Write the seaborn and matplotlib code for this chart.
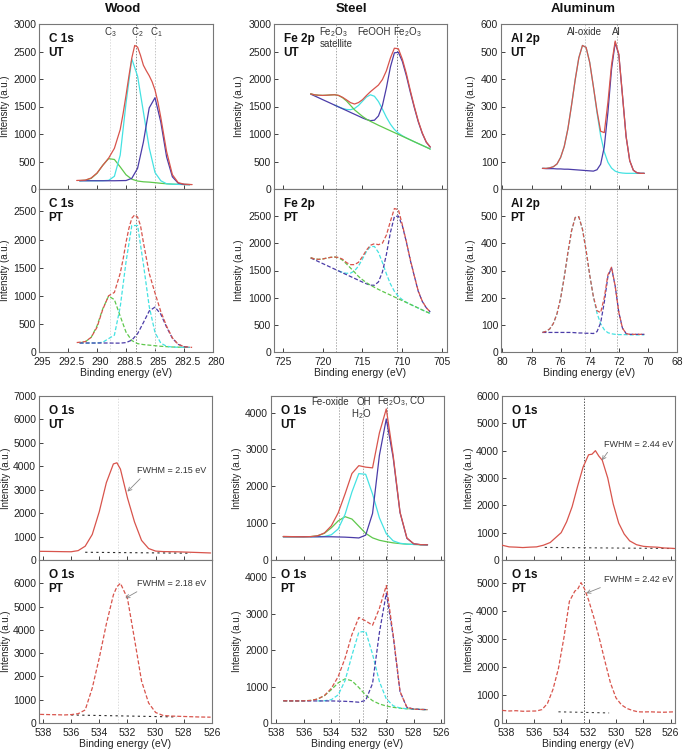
import numpy as np
import pandas as pd
import matplotlib
matplotlib.use("Agg")
import matplotlib.pyplot as plt
from matplotlib.transforms import ScaledTranslation
import seaborn as sns

sns.set_theme(style="white")
plt.rcParams['font.family'] = ['Liberation Sans', 'DejaVu Sans']
plt.rcParams['mathtext.fontset'] = 'custom'
plt.rcParams['mathtext.rm'] = 'Liberation Sans'
plt.rcParams['mathtext.it'] = 'Liberation Sans:italic'
plt.rcParams['mathtext.bf'] = 'Liberation Sans:bold'

# ------------------------------------------------------------------ data
NAN = np.nan
# --- C 1s (wood)
C1S_X = [291.5, 291.0, 290.5, 290.0, 289.5, 289.0, 288.5, 288.0, 287.5, 287.0,
         286.5, 286.0, 285.5, 285.0, 284.5, 284.0, 283.5, 283.0, 282.5, 282.0]
C1S_UT_GREEN = [151, 160, 194, 285, 433, 552, 537, 402, 259, 178, 145, 131, 125, 115, 104, 95, 88, 84, 82, 80]
C1S_UT_CYAN = [150, 150, 150, 150, 151, 157, 231, 616, 1557, 2366, 2050, 1400, 750, 300, 150, 95, 88, 84, 82, 80]
C1S_UT_BLUE = [150, 150, 150, 150, 150, 150, 150, 152, 154, 194, 377, 854, 1474, 1660, 1217, 583, 221, 106, 82, 80]
C1S_UT_RED_X = [291.75, 291.0, 290.5, 290.0, 289.5, 289.0, 288.5, 288.0, 287.75, 287.5, 287.25, 287.0, 286.75,
                286.5, 286.25, 286.0, 285.75, 285.5, 285.25, 285.0, 284.75, 284.5, 284.0, 283.5, 283.0, 282.5, 281.8]
C1S_UT_RED = [155, 162, 200, 290, 430, 560, 740, 1080, 1370, 1700, 2050, 2380, 2610,
              2580, 2430, 2250, 2150, 2060, 1950, 1800, 1580, 1300, 680, 260, 115, 88, 80]
C1S_PT_GREEN = [163, 183, 261, 463, 771, 995, 931, 639, 354, 204, 149, 132, 122, 112, 102, 95, 89, 86, 84, 83]
C1S_PT_CYAN = [160, 160, 160, 160, 174, 238, 300, 800, 1600, 2250, 2250, 1564, 811, 346, 158, 102, 88, 85, 83, 82]
C1S_PT_BLUE = [160, 160, 160, 160, 160, 160, 158, 158, 167, 211, 326, 523, 729, 799, 673, 441, 245, 136, 95, 84]
C1S_PT_RED_X = [291.75, 291.0, 290.5, 290.0, 289.5, 289.0, 288.5, 288.0, 287.75, 287.5, 287.25, 287.0, 286.75,
                286.5, 286.25, 286.0, 285.5, 285.0, 284.5, 284.0, 283.5, 283.0, 282.5, 281.8]
C1S_PT_RED = [168, 185, 262, 440, 760, 1000, 1060, 1400, 1650, 1950, 2200, 2380, 2440,
              2400, 2250, 1950, 1400, 1050, 720, 460, 250, 137, 95, 82]
C1S_LINES = [288.9, 286.63, 285.03]
C1S_XTICKS = [295, 292.5, 290, 287.5, 285, 282.5, 280]
C1S_XTICKLABELS = ["295", "292.5", "290", "288.5", "285", "282.5", "280"]

# --- Fe 2p (steel)
FE_X = [721.5, 721.0, 720.5, 720.0, 719.5, 719.0, 718.5, 718.0, 717.5, 717.0,
        716.5, 716.0, 715.5, 715.0, 714.5, 714.0, 713.5, 713.0, 712.5, 712.0,
        711.5, 711.0, 710.5, 710.0, 709.5, 709.0, 708.5, 708.0, 707.5, 707.0, 706.5]
FE_UT_GREEN = [1730, 1712, 1705, 1702, 1705, 1710, 1715, 1700, 1660, 1600, 1520, 1440, 1380, 1320, 1270, 1230,
               1195, 1159, 1126, 1092, 1059, 1026, 992, 959, 926, 893, 859, 826, 793, 760, 726]
FE_UT_CYAN = [NAN, NAN, NAN, NAN, NAN, NAN, 1526, 1494, 1466, 1446, 1442, 1464, 1518, 1596, 1673, 1713,
              1686, 1591, 1452, 1304, 1179, 1083, 1016, 968, 929, 893, 859, 826, 793, 760, 726]
FE_UT_BLUE = [1725, 1692, 1659, 1625, 1592, 1559, 1525, 1492, 1459, 1426, 1392, 1359, 1326, 1292, 1263, 1243,
              1251, 1328, 1518, 1841, 2216, 2476, 2486, 2319, 2060, 1760, 1480, 1220, 1010, 850, 760]
FE_UT_RED = [1730, 1712, 1705, 1702, 1705, 1710, 1713, 1702, 1667, 1620, 1570, 1545, 1572, 1624, 1700, 1770,
             1830, 1890, 1990, 2150, 2380, 2560, 2550, 2360, 2100, 1790, 1500, 1235, 1020, 855, 765]
FE_PT_GREEN = [1735, 1712, 1705, 1712, 1728, 1742, 1748, 1735, 1690, 1620, 1545, 1470, 1390, 1330, 1275, 1230,
               1190, 1152, 1116, 1082, 1048, 1014, 979, 945, 911, 877, 843, 809, 774, 740, 710]
FE_PT_CYAN = [NAN, NAN, NAN, NAN, NAN, NAN, NAN, 1494, 1465, 1448, 1452, 1493, 1582, 1713, 1852, 1942,
              1942, 1833, 1647, 1438, 1254, 1117, 1024, 962, 916, 877, 843, 809, 774, 740, 710]
FE_PT_BLUE = [1731, 1697, 1662, 1628, 1594, 1560, 1526, 1492, 1457, 1423, 1389, 1355, 1321, 1287, 1255, 1229,
              1229, 1290, 1473, 1797, 2199, 2490, 2502, 2324, 2027, 1687, 1400, 1113, 932, 814, 737]
FE_PT_RED = [1735, 1712, 1705, 1712, 1728, 1742, 1748, 1740, 1708, 1645, 1608, 1608, 1651, 1756, 1876, 1965,
             1993, 1975, 2004, 2153, 2405, 2640, 2620, 2341, 2032, 1700, 1400, 1120, 935, 815, 737]
FE_LINES = [718.3, 710.7]
FE_XTICKS = [725, 720, 715, 710, 705]

# --- Al 2p (aluminum)
AL_X = [77.25, 77.0, 76.75, 76.5, 76.25, 76.0, 75.75, 75.5, 75.25, 75.0, 74.75, 74.5, 74.25, 74.0, 73.75,
        73.5, 73.25, 73.0, 72.75, 72.5, 72.25, 72.0, 71.75, 71.5, 71.25, 71.0, 70.75, 70.5, 70.25]
AL_UT_CYAN = [75, 75, 77, 81, 91, 115, 155, 219, 305, 397, 477, 522, 515, 460, 373,
              278, 194, 135, 97, 76, 65, 60, 58, 57, 57, 57, 57, 57, 57]
AL_UT_BLUE = [75, 74, 74, 74, 73, 73, 72, 72, 71, 70, 69, 68, 67, 66, 65,
              70, 90, 153, 279, 436, 532, 488, 341, 191, 103, 68, 59, 57, 57]
AL_UT_RED = [75, 75, 77, 81, 91, 115, 155, 219, 305, 397, 477, 522, 515, 460, 373,
             284, 210, 205, 315, 452, 538, 490, 341, 191, 103, 68, 59, 57, 57]
AL_PT_CYAN = [72, 76, 85, 105, 141, 198, 276, 366, 446, 495, 498, 452, 374, 283, 204,
              143, 104, 82, 71, 67, 65, 64, 64, 64, 63, 63, 63, 63, 63]
AL_PT_BLUE = [72, 72, 72, 72, 72, 72, 72, 72, 72, 71, 70, 70, 69, 69, 68,
              75, 107, 183, 278, 310, 243, 146, 88, 68, 65, 65, 65, 65, 65]
AL_PT_RED = [72, 76, 85, 105, 141, 198, 276, 366, 446, 495, 498, 452, 374, 283, 204,
             152, 145, 200, 284, 312, 243, 146, 88, 68, 65, 65, 65, 65, 65]
AL_LINES = [74.33, 72.1]
AL_XTICKS = [80, 78, 76, 74, 72, 70, 68]

# --- O 1s (wood)
OW_X = [538.2, 537.5, 537.0, 536.5, 536.0, 535.5, 535.0, 534.5, 534.0, 533.5, 533.0, 532.75,
        532.5, 532.0, 531.5, 531.0, 530.5, 530.0, 529.5, 529.0, 528.5, 528.0, 527.0, 526.1]
OW_UT_RED = [370, 365, 360, 355, 352, 400, 590, 1090, 2068, 3300, 4100, 4150,
             3880, 2650, 1623, 836, 490, 380, 360, 355, 350, 340, 320, 300]
OW_PT_RED = [370, 360, 355, 345, 360, 400, 560, 1500, 2800, 4250, 5500, 5850,
             6000, 5350, 3600, 1800, 860, 450, 330, 300, 290, 280, 260, 250]
OW_UT_BASE_X = [535.0, 527.5]
OW_UT_BASE_Y = [330, 290]
OW_PT_BASE_X = [536.0, 528.5]
OW_PT_BASE_Y = [345, 260]
OW_LINES = [532.7]

# --- O 1s (steel)
OS_X = [537.5, 537.0, 536.5, 536.0, 535.5, 535.0, 534.5, 534.0, 533.5, 533.0, 532.5,
        532.0, 531.5, 531.0, 530.5, 530.0, 529.5, 529.0, 528.5, 528.0, 527.5, 527.0]
OS_UT_GREEN = [630, 630, 630, 630, 635, 656, 725, 873, 1061, 1176, 1111, 917, 724, 601, 535, 497, 465, 445, 430, 422, 416, 412]
OS_UT_CYAN = [NAN, NAN, NAN, NAN, 630, 631, 639, 684, 843, 1238, 1846, 2344, 2326, 1791, 1143, 714, 520, 454, 430, 422, 416, 412]
OS_UT_BLUE = [630, 630, 630, 630, 630, 630, 630, 630, 625, 620, 610, 598, 674, 1263, 2843, 3828, 2783, 1287, 587, 439, 416, 412]
OS_UT_RED = [640, 635, 632, 630, 635, 657, 734, 927, 1279, 1794, 2347, 2560, 2520, 2500, 3450, 4100, 2838, 1296, 600, 440, 416, 412]
OS_PT_GREEN = [605, 605, 605, 608, 619, 656, 749, 914, 1101, 1210, 1157, 974, 766, 612, 522, 466, 430, 405, 390, 380, 372, 366]
OS_PT_CYAN = [NAN, NAN, NAN, NAN, NAN, 605, 610, 640, 771, 1162, 1854, 2490, 2515, 1886, 1134, 662, 473, 411, 390, 380, 372, 366]
OS_PT_BLUE = [609, 607, 605, 605, 605, 605, 605, 605, 600, 595, 585, 570, 619, 1084, 2480, 3560, 2386, 858, 429, 380, 372, 366]
OS_PT_RED = [609, 607, 605, 608, 619, 656, 754, 949, 1272, 1777, 2426, 2894, 2800, 2680, 3146, 3768, 2429, 864, 429, 380, 372, 366]
OS_LINES = [533.43, 531.67, 529.98]

# --- O 1s (aluminum)
OA_UT_X = [538.3, 537.8, 537.3, 536.8, 536.3, 535.8, 535.3, 534.8, 534.4, 534.0, 533.6, 533.2, 532.8, 532.4,
           532.0, 531.75, 531.5, 531.25, 531.0, 530.6, 530.2, 529.8, 529.4, 529.0, 528.5, 528.0, 527.5,
           527.0, 526.5, 526.0, 525.7]
OA_UT_RED = [540, 480, 470, 455, 470, 480, 540, 640, 820, 1000, 1400, 1950, 2700, 3400,
             3850, 3870, 4000, 3800, 3650, 3000, 2050, 1350, 950, 700, 560, 500, 480,
             470, 440, 430, 420]
OA_PT_X = [538.3, 537.8, 537.3, 536.8, 536.3, 535.8, 535.4, 535.0, 534.6, 534.2, 533.8, 533.4, 533.0,
           532.8, 532.55, 532.3, 532.0, 531.6, 531.2, 530.8, 530.4, 530.0, 529.6, 529.2, 528.8, 528.4,
           528.0, 527.5, 527.0, 526.5, 526.0, 525.7]
OA_PT_RED = [450, 430, 440, 420, 425, 430, 480, 700, 1200, 1950, 3050, 4350, 4720,
             4780, 5020, 4800, 4400, 3750, 3000, 2200, 1430, 900, 650, 520, 450, 400,
             395, 400, 390, 385, 395, 400]
OA_UT_BASE_X = [535.2, 525.8]
OA_UT_BASE_Y = [460, 420]
OA_PT_BASE_X = [534.2, 530.5]
OA_PT_BASE_Y = [400, 360]
OA_LINES = [532.35]
O_XTICKS = [538, 536, 534, 532, 530, 528, 526]

# ------------------------------------------------------------------ style
RED = "#d8544c"
CYAN = "#44e2e2"
BLUE = "#4b3ca8"
GREEN = "#5ec84c"
DARK = "#2b2b2b"

W, H = 685, 752
fig = plt.figure(figsize=(W / 100, H / 100), dpi=100)


def make_ax(l, t, r, b):
    return fig.add_axes([l / W, 1 - b / H, (r - l) / W, (b - t) / H])


def style_ax(ax, xlim, xticks, ylim, yticks, show_x, xticklabels=None, ylab_x=-0.16, xshift=0.0):
    ax.set_xlim(*xlim)
    ax.set_ylim(*ylim)
    ax.set_xticks(xticks)
    if xticklabels is not None:
        ax.set_xticklabels(xticklabels)
    ax.set_yticks(yticks)
    ax.tick_params(axis="both", which="both", direction="in", length=3, width=0.6,
                   labelsize=7.5, colors="#222222", pad=2, bottom=True, left=True)
    ax.tick_params(axis="x", labelbottom=show_x, pad=3.8)
    for s in ax.spines.values():
        s.set_color("#777777")
        s.set_linewidth(0.8)
    ax.set_ylabel("Intensity (a.u.)", fontsize=7, color="#222222")
    ax.yaxis.set_label_coords(ylab_x, 0.5)
    if show_x:
        ax.set_xlabel("Binding energy (eV)", fontsize=7.5, color="#222222")
        ax.xaxis.set_label_coords(0.5, -0.1)
        if xshift:
            off = ScaledTranslation(xshift / 100, 0, fig.dpi_scale_trans)
            for lbl in ax.get_xticklabels():
                lbl.set_transform(lbl.get_transform() + off)
    else:
        ax.set_xlabel("")
    ax.grid(False)


def curve(ax, x, y, color, dashed, lw=0.9, z=3):
    df = pd.DataFrame({"x": x, "y": y}).dropna()
    ls = (0, (3.2, 1.6)) if dashed else "-"
    sns.lineplot(data=df, x="x", y="y", ax=ax, color=color, linewidth=lw,
                 linestyle=ls, estimator=None, sort=False, legend=False, zorder=z)


def vlines(ax, xs, colors):
    for xv, c in zip(xs, colors):
        ax.axvline(xv, color=c, lw=0.7, linestyle=(0, (1.5, 1.5)), zorder=1)


def panel_label(ax, txt):
    ax.text(0.055, 0.945, txt, transform=ax.transAxes, ha="left", va="top",
            fontsize=8.5, fontweight="bold", color="#111111", linespacing=1.25)


cols_top = [(39, 213), (274, 447), (501, 677)]
cols_bot = [(39, 212), (271, 444), (502, 675)]
rows_top = [(24, 189), (189, 352)]
rows_bot = [(396, 560), (560, 723)]

# ---------------- C 1s
for i, (tag, g, c, b, rx, r) in enumerate([
        ("UT", C1S_UT_GREEN, C1S_UT_CYAN, C1S_UT_BLUE, C1S_UT_RED_X, C1S_UT_RED),
        ("PT", C1S_PT_GREEN, C1S_PT_CYAN, C1S_PT_BLUE, C1S_PT_RED_X, C1S_PT_RED)]):
    ax = make_ax(cols_top[0][0], rows_top[i][0], cols_top[0][1], rows_top[i][1])
    dashed = tag == "PT"
    vlines(ax, C1S_LINES, ["#dddddd", "#888888", "#c4c4c4"])
    curve(ax, C1S_X, g, GREEN, dashed)
    curve(ax, C1S_X, c, CYAN, dashed)
    curve(ax, C1S_X, b, BLUE, dashed)
    curve(ax, rx, r, RED, dashed)
    if i == 0:
        style_ax(ax, (295, 280), C1S_XTICKS, (0, 3000), list(range(0, 3001, 500)), False, ylab_x=-0.165)
        for xv, t in zip([288.83, 286.49, 284.91], [r"C$_\mathregular{3}$", r"C$_\mathregular{2}$", r"C$_\mathregular{1}$"]):
            ax.text(xv, 2855, t, ha="center", va="center", fontsize=7, color="#333333")
    else:
        style_ax(ax, (295, 280), C1S_XTICKS, (0, 2900), list(range(0, 2501, 500)), True,
                 xticklabels=C1S_XTICKLABELS, ylab_x=-0.165, xshift=3.5)
    panel_label(ax, "C 1s\n" + tag)

# ---------------- Fe 2p
for i, (tag, g, c, b, r) in enumerate([
        ("UT", FE_UT_GREEN, FE_UT_CYAN, FE_UT_BLUE, FE_UT_RED),
        ("PT", FE_PT_GREEN, FE_PT_CYAN, FE_PT_BLUE, FE_PT_RED)]):
    ax = make_ax(cols_top[1][0], rows_top[i][0], cols_top[1][1], rows_top[i][1])
    dashed = tag == "PT"
    vlines(ax, FE_LINES, ["#aaaaaa", "#777777"])
    curve(ax, FE_X, c, CYAN, dashed)
    curve(ax, FE_X, b, BLUE, dashed)
    curve(ax, FE_X, g, GREEN, dashed)
    curve(ax, FE_X, r, RED, dashed)
    if i == 0:
        style_ax(ax, (726.1, 704.4), FE_XTICKS, (0, 3000), list(range(0, 3001, 500)), False, ylab_x=-0.173)
        ax.text(718.67, 2855, r"Fe$_\mathregular{2}$O$_\mathregular{3}$", ha="center", va="center", fontsize=7, color="#333333")
        ax.text(718.3, 2640, "satellite", ha="center", va="center", fontsize=7, color="#333333")
        ax.text(713.6, 2855, "FeOOH", ha="center", va="center", fontsize=7, color="#333333")
        ax.text(709.4, 2855, r"Fe$_\mathregular{2}$O$_\mathregular{3}$", ha="center", va="center", fontsize=7, color="#333333")
    else:
        style_ax(ax, (726.1, 704.4), FE_XTICKS, (0, 3000), list(range(0, 2501, 500)), True, ylab_x=-0.173)
    panel_label(ax, "Fe 2p\n" + tag)

# ---------------- Al 2p
for i, (tag, c, b, r) in enumerate([
        ("UT", AL_UT_CYAN, AL_UT_BLUE, AL_UT_RED),
        ("PT", AL_PT_CYAN, AL_PT_BLUE, AL_PT_RED)]):
    ax = make_ax(cols_top[2][0], rows_top[i][0], cols_top[2][1], rows_top[i][1])
    dashed = tag == "PT"
    vlines(ax, AL_LINES, ["#c4c4c4", "#b0b0b0"])
    curve(ax, AL_X, c, CYAN, dashed)
    curve(ax, AL_X, b, BLUE, dashed)
    curve(ax, AL_X, r, RED, dashed)
    if i == 0:
        style_ax(ax, (80.1, 68.0), AL_XTICKS, (0, 600), list(range(0, 601, 100)), False, ylab_x=-0.142)
        ax.text(74.33, 571, "Al-oxide", ha="center", va="center", fontsize=7, color="#333333")
        ax.text(72.16, 571, "Al", ha="center", va="center", fontsize=7, color="#333333")
    else:
        style_ax(ax, (80.1, 68.0), AL_XTICKS, (0, 600), list(range(0, 501, 100)), True, ylab_x=-0.142)
    panel_label(ax, "Al 2p\n" + tag)

# ---------------- O 1s wood
for i, (tag, r, bx, by) in enumerate([
        ("UT", OW_UT_RED, OW_UT_BASE_X, OW_UT_BASE_Y),
        ("PT", OW_PT_RED, OW_PT_BASE_X, OW_PT_BASE_Y)]):
    ax = make_ax(cols_bot[0][0], rows_bot[i][0], cols_bot[0][1], rows_bot[i][1])
    dashed = tag == "PT"
    vlines(ax, OW_LINES, ["#dddddd"])
    sns.lineplot(x=bx, y=by, ax=ax, color=DARK, linewidth=0.8, linestyle=(0, (2, 3)),
                 estimator=None, sort=False, legend=False, zorder=2)
    curve(ax, OW_X, r, RED, dashed)
    if i == 0:
        style_ax(ax, (538.28, 526.07), O_XTICKS, (0, 7000), list(range(0, 7001, 1000)), False, ylab_x=-0.162)
        ax.annotate("FWHM = 2.15 eV", xy=(532.0, 2920), xytext=(531.3, 3800), fontsize=6.5,
                    ha="left", va="center", color="#333333",
                    arrowprops=dict(arrowstyle="->", color="#888888", lw=0.6, shrinkA=0, shrinkB=0,
                                    relpos=(0.1, 0.1)))
    else:
        style_ax(ax, (538.28, 526.07), O_XTICKS, (0, 7000), list(range(0, 6001, 1000)), True, ylab_x=-0.162)
        ax.annotate("FWHM = 2.18 eV", xy=(532.15, 5357), xytext=(531.3, 5970), fontsize=6.5,
                    ha="left", va="center", color="#333333",
                    arrowprops=dict(arrowstyle="->", color="#888888", lw=0.6, shrinkA=0, shrinkB=0,
                                    relpos=(0.1, 0.1)))
    panel_label(ax, "O 1s\n" + tag)

# ---------------- O 1s steel
for i, (tag, g, c, b, r) in enumerate([
        ("UT", OS_UT_GREEN, OS_UT_CYAN, OS_UT_BLUE, OS_UT_RED),
        ("PT", OS_PT_GREEN, OS_PT_CYAN, OS_PT_BLUE, OS_PT_RED)]):
    ax = make_ax(cols_bot[1][0], rows_bot[i][0], cols_bot[1][1], rows_bot[i][1])
    dashed = tag == "PT"
    vlines(ax, OS_LINES, ["#aaaaaa", "#aaaaaa", "#888888"])
    curve(ax, OS_X, g, GREEN, dashed)
    curve(ax, OS_X, c, CYAN, dashed)
    curve(ax, OS_X, b, BLUE, dashed)
    curve(ax, OS_X, r, RED, dashed)
    if i == 0:
        style_ax(ax, (538.39, 525.8), O_XTICKS, (0, 4450), list(range(0, 4001, 1000)), False, ylab_x=-0.168)
        ax.text(534.09, 4300, "Fe-oxide", ha="center", va="center", fontsize=7, color="#333333")
        ax.text(531.67, 4300, "OH", ha="center", va="center", fontsize=7, color="#333333")
        ax.text(531.8, 3970, r"H$_\mathregular{2}$O", ha="center", va="center", fontsize=7, color="#333333")
        ax.text(528.9, 4300, r"Fe$_\mathregular{2}$O$_\mathregular{3}$, CO", ha="center", va="center", fontsize=7, color="#333333")
    else:
        style_ax(ax, (538.39, 525.8), O_XTICKS, (0, 4470), list(range(0, 4001, 1000)), True, ylab_x=-0.168)
    panel_label(ax, "O 1s\n" + tag)

# ---------------- O 1s aluminum
for i, (tag, x, r, bx, by) in enumerate([
        ("UT", OA_UT_X, OA_UT_RED, OA_UT_BASE_X, OA_UT_BASE_Y),
        ("PT", OA_PT_X, OA_PT_RED, OA_PT_BASE_X, OA_PT_BASE_Y)]):
    ax = make_ax(cols_bot[2][0], rows_bot[i][0], cols_bot[2][1], rows_bot[i][1])
    dashed = tag == "PT"
    vlines(ax, OA_LINES, ["#555555"])
    sns.lineplot(x=bx, y=by, ax=ax, color="#444444", linewidth=0.8, linestyle=(0, (2, 3)),
                 estimator=None, sort=False, legend=False, zorder=2)
    curve(ax, x, r, RED, dashed)
    if i == 0:
        style_ax(ax, (538.32, 525.69), O_XTICKS, (0, 6000), list(range(0, 6001, 1000)), False, ylab_x=-0.16)
        ax.annotate("FWHM = 2.44 eV", xy=(531.03, 3650), xytext=(530.9, 4225), fontsize=6.5,
                    ha="left", va="center", color="#333333",
                    arrowprops=dict(arrowstyle="->", color="#888888", lw=0.6, shrinkA=0, shrinkB=0,
                                    relpos=(0.1, 0.1)))
    else:
        style_ax(ax, (538.32, 525.69), O_XTICKS, (0, 5830), list(range(0, 5001, 1000)), True, ylab_x=-0.16)
        ax.annotate("FWHM = 2.42 eV", xy=(532.17, 4640), xytext=(530.9, 5116), fontsize=6.5,
                    ha="left", va="center", color="#333333",
                    arrowprops=dict(arrowstyle="->", color="#888888", lw=0.6, shrinkA=0, shrinkB=0,
                                    relpos=(0.1, 0.1)))
    panel_label(ax, "O 1s\n" + tag)

# ---------------- column titles
for xp, t in [(123, "Wood"), (351, "Steel"), (583, "Aluminum")]:
    fig.text(xp / W, 1 - 9 / H, t, ha="center", va="center", fontsize=9.5, fontweight="bold", color="#111111")

fig.savefig("out.png", dpi=100)
